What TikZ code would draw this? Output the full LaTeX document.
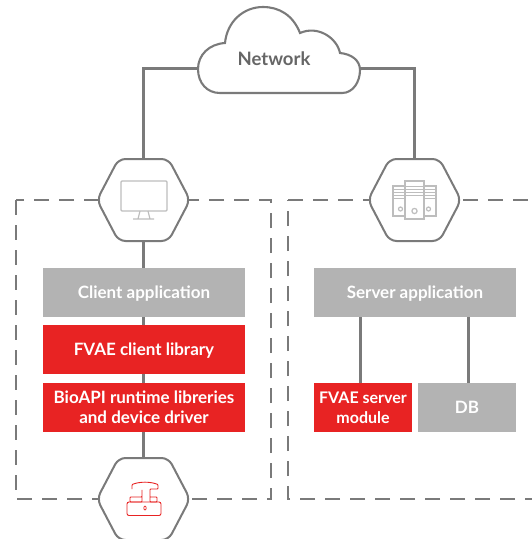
\documentclass[tikz,border=0pt]{standalone}
\usepackage{fontspec}
\setmainfont[Ligatures={Common,Rare}]{Lato}
\definecolor{linegray}{HTML}{7A7A7A}
\definecolor{boxgray}{HTML}{B3B3B3}
\definecolor{boxred}{HTML}{E82323}
\definecolor{icongray}{HTML}{BDBDBD}
\definecolor{textgray}{HTML}{666666}
\newcommand{\lowered}[1]{\raisebox{-6pt}[0pt][0pt]{#1}}
\tikzset{
  x=1pt,y=-1pt,
  link/.style={draw=linegray,line width=3pt},
  hexline/.style={draw=linegray,line width=2pt,fill=white,rounded corners=7pt},
  zone/.style={draw=linegray,line width=2.1pt,dash pattern=on 15pt off 10pt},
  block/.style={anchor=center,inner sep=0pt,outer sep=0pt,align=center,text=white,font=\bfseries\fontsize{17}{20}\selectfont},
  graybox/.style={block,fill=boxgray},
  redbox/.style={block,fill=boxred},
  hexnode/.style={inner sep=0pt,outer sep=0pt,minimum width=93pt,minimum height=82pt},
  icon/.style={draw=icongray,line width=1.2pt},
  redicon/.style={draw=boxred,line width=.9pt},
}
\begin{document}
\begin{tikzpicture}
\useasboundingbox (0,0) rectangle (532,539);
\begin{scope}
\clip (0,0) rectangle (532,539);
% zones
\draw[zone] (16,200) rectangle (271,499);
\draw[zone] (288,200) -- (540,200) (540,499) -- (288,499) -- (288,200);
% named places
\coordinate (cloudL) at (198,68);
\coordinate (cloudR) at (360,68);
\node[hexnode] (hexA) at (143.5,200) {};
\node[hexnode] (hexB) at (414.5,200) {};
\node[hexnode] (hexC) at (143.5,499) {};
\node[graybox,minimum width=202pt,minimum height=49pt] (client) at (144,292.5) {\lowered{Client application}};
\node[redbox,minimum width=202pt,minimum height=49pt] (lib) at (144,349.5) {\lowered{FVAE client library}};
\node[redbox,minimum width=202pt,minimum height=49pt] (bio) at (144,407.5) {BioAPI runtime libreries\\and device driver};
\node[graybox,minimum width=202pt,minimum height=49pt] (server) at (415,292.5) {\lowered{Server application}};
\node[redbox,minimum width=98pt,minimum height=49pt,font=\bfseries\fontsize{16}{20}\selectfont] (module) at (363,407.5) {FVAE server\\module};
\node[graybox,minimum width=98pt,minimum height=49pt] (db) at (467,407.5) {DB};
% connectors
\draw[link] (cloudL) -| (hexA.north);
\draw[link] (cloudR) -| (hexB.north);
\draw[link] (hexA.south) -- (hexA.south |- client.north);
\draw[link] (hexA.south |- client.south) -- (hexA.south |- lib.north);
\draw[link] (hexA.south |- lib.south) -- (hexA.south |- bio.north);
\draw[link] (hexA.south |- bio.south) -- (hexC.north);
\draw[link] (360,317) -- (360,383);
\draw[link] (468,317) -- (468,383);
% cloud
\draw[draw=linegray,line width=2.1pt,fill=white]
  (220,93) -- (342,93)
  .. controls (353,93) and (360,82) .. (360,70)
  .. controls (360,60) and (351,54) .. (340,53)
  .. controls (337,38) and (318,25) .. (300,33)
  .. controls (293,15) and (279,7) .. (263,7)
  .. controls (243,7) and (227,22) .. (225,43)
  .. controls (209,44) and (198,55) .. (198,69)
  .. controls (198,83) and (207,93) .. (220,93) -- cycle;
\node[font=\bfseries\fontsize{18.5}{20}\selectfont,text=textgray,inner sep=0pt] (net) at (274,59) {Network};
% hexagons
\foreach \cx/\cy in {143.5/200,414.5/200,143.5/499}{
  \draw[hexline] (\cx-46.5,\cy) -- (\cx-25,\cy-41) -- (\cx+25,\cy-41) -- (\cx+46.5,\cy) -- (\cx+25,\cy+41) -- (\cx-25,\cy+41) -- cycle;
}
% monitor
\draw[icon,rounded corners=1pt] (121,181) rectangle (167,211);
\draw[icon] (140,211) -- (138,219) (148,211) -- (150,219) (133,219) -- (154,219);
% servers
\draw[icon] (393,186) rectangle (405,216) (424,186) rectangle (436,216);
\draw[icon,line width=1.4pt] (405,181) rectangle (424,219);
\foreach \y in {186,189,192,195}{
  \draw[icon,line width=.7pt] (405,\y) -- (424,\y);
  \draw[icon,line width=.7pt] (393,\y+3) -- (405,\y+3) (424,\y+3) -- (436,\y+3);
}
\draw[icon] (414.5,211) circle (2.6pt) (400.5,209) circle (2pt) (428.5,209) circle (2pt);
% reader
\draw[redicon,rounded corners=.8pt] (132,489) -- (132,484.5) .. controls (140,481.5) and (150,481.5) .. (158,484.5) -- (158,489) -- (150,489) -- (150,502) -- (157,502) -- (157,497) -- (150,497) (142,497) -- (130,497) -- (130,502) -- (142,502) -- (142,489) -- cycle;
\draw[redicon,rounded corners=2pt] (127,502) -- (161,502) -- (161,515.5) -- (127,515.5) -- cycle;
\draw[redicon,line width=.7pt] (145,508) ellipse (1.2pt and 2pt);
\end{scope}
\end{tikzpicture}
\end{document}
